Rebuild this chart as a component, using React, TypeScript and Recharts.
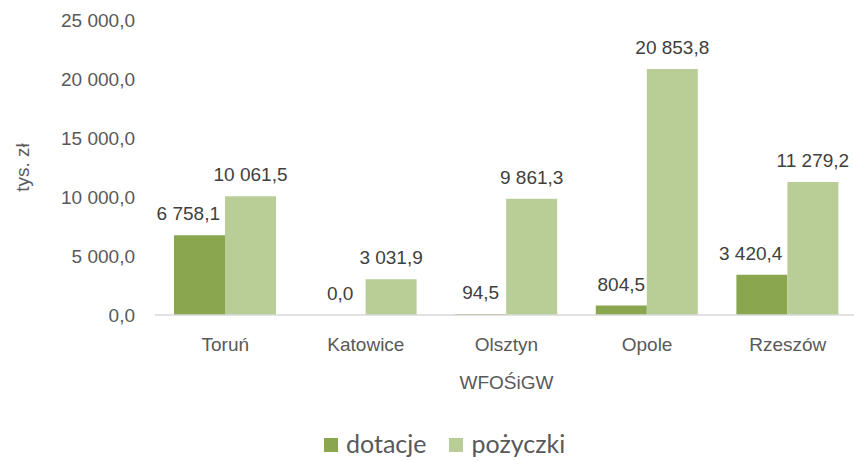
import { BarChart, Bar, XAxis, YAxis, LabelList } from 'recharts';

const categories = ['Toruń', 'Katowice', 'Olsztyn\nWFOŚiGW', 'Opole', 'Rzeszów'];
const dotacje = [6758.1, 0, 94.5, 804.5, 3420.4];
const pozyczki = [10061.5, 3031.9, 9861.3, 20853.8, 11279.2];
const yTicks = [0, 5000, 10000, 15000, 20000, 25000];

const DARK = '#8aa64f';
const LIGHT = '#b9ce97';
const FONT = '"Liberation Sans", Arial, sans-serif';
const FS = 19;

const data = categories.map((name, i) => ({
  name,
  dotacje: dotacje[i],
  pozyczki: pozyczki[i],
}));

// 25000 -> "25 000,0"
const fmt = (v: number) => {
  const [int, dec] = Number(v).toFixed(1).split('.');
  return int.replace(/\B(?=(\d{3})+(?!\d))/g, ' ') + ',' + dec;
};

// rough text width for Liberation Sans digits/spaces/commas
const textWidth = (s: string) =>
  s.split('').reduce((w, c) => w + (/\d/.test(c) ? FS * 0.556 : FS * 0.278), 0);

const CategoryTick = ({ x, y, payload }: any) => {
  const lines = String(payload.value).split('\n');
  return (
    <text x={x} y={y} textAnchor="middle" fill="#595959" fontSize={FS} fontFamily={FONT}>
      {lines.map((line, i) => (
        <tspan key={i} x={x} dy={i === 0 ? 28 : 38}>
          {line}
        </tspan>
      ))}
    </text>
  );
};

const LabelText = ({ x, y, anchor = 'middle', text }: any) => (
  <text x={x} y={y} textAnchor={anchor} fill="#404040" fontSize={FS} fontFamily={FONT}>
    {text}
  </text>
);

// dark labels wider than the bar are pulled to the left, like in the original
const DarkLabel = ({ x, y, width, value }: any) => {
  const s = fmt(value);
  const tooWide = textWidth(s) > width;
  return <LabelText x={tooWide ? x + width - 5 : x + width / 2} y={y - 15} anchor={tooWide ? 'end' : 'middle'} text={s} />;
};

// light labels; a zero "dotacje" bar gets no label of its own, so it's drawn here
// on the baseline (bottom of the light bar), one bar width to the left
const LightLabel = ({ x, y, width, height, value, index }: any) => (
  <g>
    <LabelText x={x + width / 2} y={y - 15} text={fmt(value)} />
    {dotacje[index] === 0 && <LabelText x={x - width / 2} y={y + height - 15} text={fmt(0)} />}
  </g>
);

export default function App() {
  return (
    <div style={{ position: 'absolute', left: 0, top: 0, width: 854, height: 461, background: '#fff', overflow: 'hidden' }}>
      <BarChart
        width={854}
        height={461}
        data={data}
        margin={{ top: 20, right: -4, left: 0, bottom: 0 }}
        barSize={51}
        barGap={0}
      >
        <XAxis
          dataKey="name"
          interval={0}
          height={146}
          tickLine={false}
          axisLine={{ stroke: '#d9d9d9', strokeWidth: 1.5 }}
          tick={<CategoryTick />}
        />
        <YAxis
          width={155}
          domain={[0, 25000]}
          ticks={yTicks}
          axisLine={false}
          tickLine={false}
          tickSize={0}
          tickMargin={20}
          tickFormatter={fmt}
          tick={{ fill: '#595959', fontSize: FS, fontFamily: FONT }}
          label={({ viewBox }: any) => (
            <text
              x={24}
              y={viewBox.y + viewBox.height / 2}
              transform={`rotate(-90 24 ${viewBox.y + viewBox.height / 2})`}
              textAnchor="middle"
              dominantBaseline="middle"
              fill="#595959"
              fontSize={FS}
              fontFamily={FONT}
            >
              tys. zł
            </text>
          )}
        />
        <Bar dataKey="dotacje" name="dotacje" fill={DARK} isAnimationActive={false}>
          <LabelList dataKey="dotacje" content={<DarkLabel />} />
        </Bar>
        <Bar dataKey="pozyczki" name="pożyczki" fill={LIGHT} isAnimationActive={false}>
          <LabelList dataKey="pozyczki" content={<LightLabel />} />
        </Bar>
      </BarChart>
      <div
        style={{
          position: 'absolute',
          top: 428,
          left: 324,
          display: 'flex',
          fontFamily: 'Lato, sans-serif',
          fontSize: 25,
          color: '#595959',
          lineHeight: '30px',
        }}
      >
        {[
          { label: 'dotacje', color: DARK },
          { label: 'pożyczki', color: LIGHT },
        ].map((item, i) => (
          <div key={item.label} style={{ display: 'flex', alignItems: 'center', marginLeft: i === 0 ? 0 : 23 }}>
            <span style={{ display: 'inline-block', width: 14, height: 14, background: item.color, marginRight: 8, marginTop: 4 }} />
            {item.label}
          </div>
        ))}
      </div>
    </div>
  );
}
